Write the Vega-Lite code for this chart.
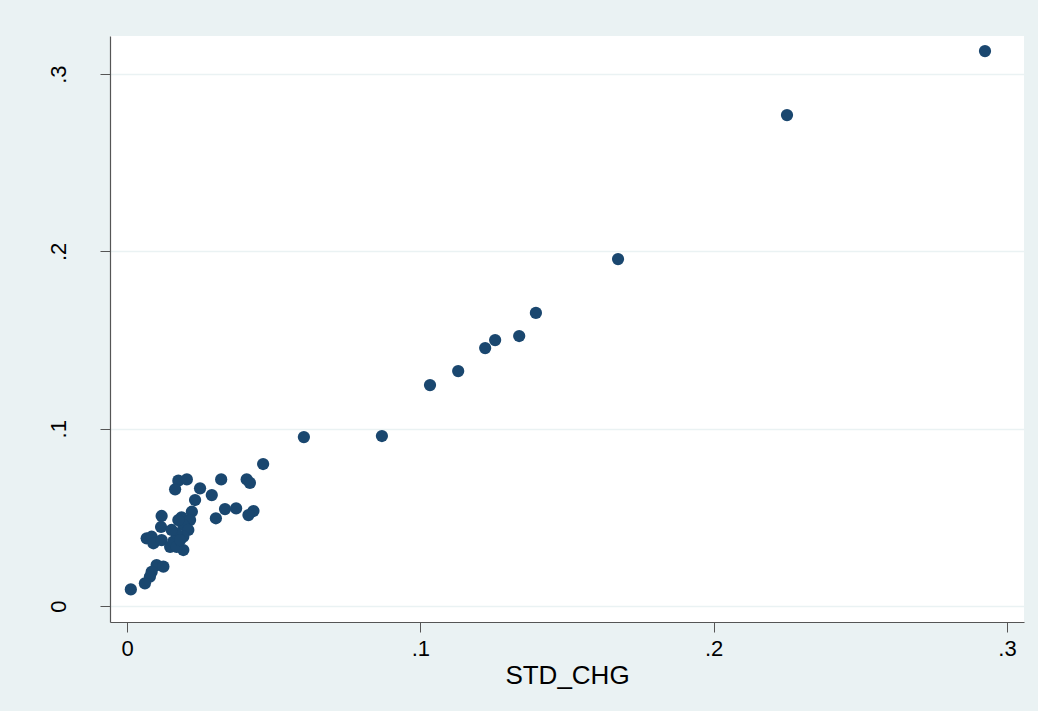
{
  "$schema": "https://vega.github.io/schema/vega-lite/v6.json",
  "width": 914,
  "height": 586,
  "autosize": {"type": "none"},
  "padding": {"left": 110, "top": 36, "right": 14, "bottom": 89},
  "background": "#EAF2F3",
  "view": {"fill": "white", "stroke": null},
  "config": {"font": "Liberation Sans"},
  "data": {
    "values": [
      {"STD_CHG": 0.0464, "Y": 0.0801},
      {"STD_CHG": 0.0321, "Y": 0.0714},
      {"STD_CHG": 0.0408, "Y": 0.0714},
      {"STD_CHG": 0.0419, "Y": 0.0695},
      {"STD_CHG": 0.0175, "Y": 0.0707},
      {"STD_CHG": 0.0204, "Y": 0.0714},
      {"STD_CHG": 0.0164, "Y": 0.0658},
      {"STD_CHG": 0.0249, "Y": 0.0664},
      {"STD_CHG": 0.0232, "Y": 0.0598},
      {"STD_CHG": 0.0289, "Y": 0.0626},
      {"STD_CHG": 0.0334, "Y": 0.0547},
      {"STD_CHG": 0.0372, "Y": 0.0551},
      {"STD_CHG": 0.0431, "Y": 0.0536},
      {"STD_CHG": 0.0414, "Y": 0.0513},
      {"STD_CHG": 0.0303, "Y": 0.0495},
      {"STD_CHG": 0.0118, "Y": 0.0508},
      {"STD_CHG": 0.0186, "Y": 0.0500},
      {"STD_CHG": 0.0221, "Y": 0.0532},
      {"STD_CHG": 0.0215, "Y": 0.0485},
      {"STD_CHG": 0.0192, "Y": 0.0457},
      {"STD_CHG": 0.0209, "Y": 0.0429},
      {"STD_CHG": 0.0116, "Y": 0.0446},
      {"STD_CHG": 0.0067, "Y": 0.0382},
      {"STD_CHG": 0.0084, "Y": 0.0391},
      {"STD_CHG": 0.0090, "Y": 0.0354},
      {"STD_CHG": 0.0118, "Y": 0.0372},
      {"STD_CHG": 0.0147, "Y": 0.0334},
      {"STD_CHG": 0.0158, "Y": 0.0363},
      {"STD_CHG": 0.0192, "Y": 0.0316},
      {"STD_CHG": 0.0192, "Y": 0.0391},
      {"STD_CHG": 0.0169, "Y": 0.0410},
      {"STD_CHG": 0.0175, "Y": 0.0485},
      {"STD_CHG": 0.0101, "Y": 0.0231},
      {"STD_CHG": 0.0124, "Y": 0.0222},
      {"STD_CHG": 0.0084, "Y": 0.0193},
      {"STD_CHG": 0.0078, "Y": 0.0165},
      {"STD_CHG": 0.0061, "Y": 0.0128},
      {"STD_CHG": 0.0013, "Y": 0.0094},
      {"STD_CHG": 0.0169, "Y": 0.0334},
      {"STD_CHG": 0.0181, "Y": 0.0372},
      {"STD_CHG": 0.0152, "Y": 0.0429},
      {"STD_CHG": 0.0603, "Y": 0.0953},
      {"STD_CHG": 0.0869, "Y": 0.0959},
      {"STD_CHG": 0.1033, "Y": 0.1246},
      {"STD_CHG": 0.1129, "Y": 0.1325},
      {"STD_CHG": 0.1221, "Y": 0.1455},
      {"STD_CHG": 0.1255, "Y": 0.1500},
      {"STD_CHG": 0.1337, "Y": 0.1523},
      {"STD_CHG": 0.1394, "Y": 0.1653},
      {"STD_CHG": 0.1674, "Y": 0.1957},
      {"STD_CHG": 0.2250, "Y": 0.2769},
      {"STD_CHG": 0.2925, "Y": 0.3130}
    ]
  },
  "mark": {"type": "point", "filled": true, "shape": "circle", "size": 150, "color": "#1A476F", "opacity": 1},
  "encoding": {
    "x": {
      "field": "STD_CHG",
      "type": "quantitative",
      "scale": {"domain": [-0.0058, 0.3058], "nice": false, "zero": false},
      "axis": {
        "values": [0, 0.1, 0.2, 0.3],
        "labelExpr": "datum.value == 0 ? '0' : substring(format(datum.value, '.1f'), 1)",
        "grid": false,
        "domainColor": "#555555",
        "domainWidth": 1.2,
        "tickColor": "#555555",
        "tickSize": 10,
        "labelFontSize": 22,
        "labelColor": "#000000",
        "labelPadding": 6,
        "title": "STD_CHG",
        "titleFontSize": 26,
        "titleFontWeight": "normal",
        "titleColor": "#000000",
        "titlePadding": 3
      }
    },
    "y": {
      "field": "Y",
      "type": "quantitative",
      "scale": {"domain": [-0.009, 0.3215], "nice": false, "zero": false},
      "axis": {
        "values": [0, 0.1, 0.2, 0.3],
        "labelExpr": "datum.value == 0 ? '0' : substring(format(datum.value, '.1f'), 1)",
        "grid": true,
        "gridColor": "#EAF2F3",
        "gridWidth": 1.5,
        "domainColor": "#555555",
        "domainWidth": 1.2,
        "tickColor": "#555555",
        "tickSize": 10,
        "labelAngle": -90,
        "labelAlign": "center",
        "labelBaseline": "bottom",
        "labelFontSize": 22,
        "labelColor": "#000000",
        "labelPadding": 30,
        "title": null
      }
    }
  }
}
